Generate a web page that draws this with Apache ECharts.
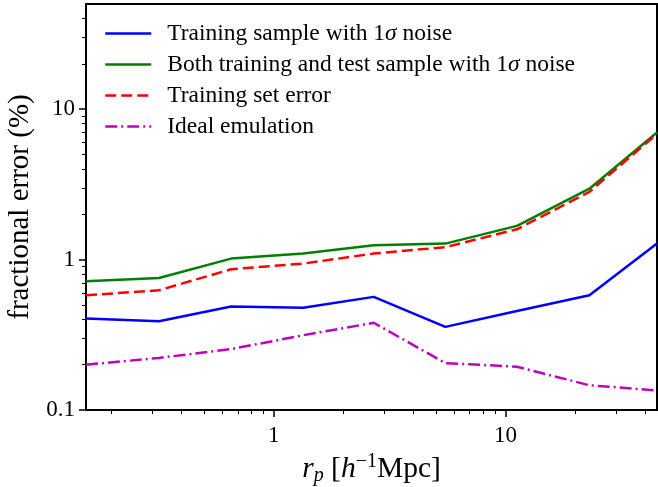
<!DOCTYPE html>
<html>
<head>
<meta charset="utf-8">
<script src="https://cdn.jsdelivr.net/npm/echarts@6/dist/echarts.min.js"></script>
<style>
html, body { margin: 0; padding: 0; background: #fff; }
#main { width: 658px; height: 487px; }
</style>
</head>
<body>
<div id="main"></div>
<script>
// r_p 取样点 (h^-1 Mpc)
var rp = [0.155, 0.32, 0.655, 1.34, 2.7, 5.5, 11.2, 23, 45];
// 各曲线误差 (%)
var trainNoise = [0.405, 0.389, 0.487, 0.478, 0.565, 0.357, 0.455, 0.579, 1.28];
var bothNoise = [0.718, 0.755, 1.015, 1.096, 1.245, 1.277, 1.675, 2.96, 7.0];
var trainSetErr = [0.579, 0.625, 0.862, 0.94, 1.096, 1.21, 1.59, 2.82, 6.85];
var ideal = [0.2, 0.222, 0.254, 0.314, 0.38, 0.205, 0.194, 0.146, 0.135];
var names = [
    'Training sample with 1σ noise',
    'Both training and test sample with 1σ noise',
    'Training set error',
    'Ideal emulation'
];
// 刻度
var xMajor = [1, 10];
var xMinor = [0.2, 0.3, 0.4, 0.5, 0.6, 0.7, 0.8, 0.9, 2, 3, 4, 5, 6, 7, 8, 9, 20, 30, 40];
var yMajor = [0.1, 1, 10];
var yMinor = [0.2, 0.3, 0.4, 0.5, 0.6, 0.7, 0.8, 0.9, 2, 3, 4, 5, 6, 7, 8, 9, 20, 30, 40];

var font = 'Liberation Serif';

function pairs(ys) {
    return rp.map(function (x, i) { return [x, ys[i]]; });
}

function mkSeries(name, ys, color, type) {
    return {
        name: name,
        type: 'line',
        data: pairs(ys),
        showSymbol: false,
        symbol: 'none',
        color: color,
        lineStyle: { color: color, width: 2.5, type: type },
        animation: false
    };
}

var xRange = { min: 0.155, max: 45 };
var yRange = { min: 0.1, max: 50 };

var myChart = echarts.init(document.getElementById('main'));
var option = {
    backgroundColor: '#fff',
    grid: {
        left: 86, right: 1, top: 4, bottom: 77,
        outerBoundsMode: 'none', containLabel: false,
        show: true, borderColor: '#000', borderWidth: 2
    },
    legend: {
        orient: 'vertical',
        left: 99, top: 14,
        itemWidth: 46, itemHeight: 14, itemGap: 2,
        itemStyle: { opacity: 0 },
        lineStyle: { width: 2.5 },
        formatter: function (n) {
            return n.replace('1σ', '1{s|σ}');
        },
        textStyle: {
            fontFamily: font, fontSize: 23.5, color: '#000', lineHeight: 29,
            padding: [0, 0, 0, 11],
            rich: { s: { fontFamily: font, fontSize: 23.5, fontStyle: 'italic', color: '#000', lineHeight: 29 } }
        }
    },
    xAxis: [{
        type: 'log', min: xRange.min, max: xRange.max,
        axisLine: { lineStyle: { color: '#000', width: 2 } },
        splitLine: { show: false },
        axisTick: { customValues: xMajor, length: 7, lineStyle: { color: '#000', width: 1.5 } },
        axisLabel: {
            customValues: xMajor, margin: 14,
            fontFamily: font, fontSize: 23, color: '#000',
            formatter: function (v) { return String(+v.toPrecision(3)); }
        },
        name: '{i|r}{sub|p} [{i|h}{sup|−1}Mpc]',
        nameLocation: 'middle', nameGap: 40,
        nameTextStyle: {
            fontFamily: font, fontSize: 29.5, color: '#000', lineHeight: 34,
            rich: {
                i: { fontFamily: font, fontSize: 29.5, fontStyle: 'italic', lineHeight: 34 },
                sub: { fontFamily: font, fontSize: 20, fontStyle: 'italic', lineHeight: 16, verticalAlign: 'bottom' },
                sup: { fontFamily: font, fontSize: 20, lineHeight: 16, verticalAlign: 'top' }
            }
        }
    }, {
        type: 'log', min: xRange.min, max: xRange.max, position: 'bottom',
        axisLine: { show: false },
        splitLine: { show: false },
        axisTick: { customValues: xMinor, length: 4, lineStyle: { color: '#000', width: 1 } },
        axisLabel: { show: false }
    }],
    yAxis: [{
        type: 'log', min: yRange.min, max: yRange.max,
        axisLine: { show: true, lineStyle: { color: '#000', width: 2 } },
        splitLine: { show: false },
        axisTick: { show: true, customValues: yMajor, length: 7, lineStyle: { color: '#000', width: 1.5 } },
        axisLabel: {
            customValues: yMajor, margin: 11,
            fontFamily: font, fontSize: 23, color: '#000',
            formatter: function (v) { return String(+v.toPrecision(3)); }
        },
        name: 'fractional error (%)',
        nameLocation: 'middle', nameGap: 50,
        nameTextStyle: { fontFamily: font, fontSize: 29, color: '#000' }
    }, {
        type: 'log', min: yRange.min, max: yRange.max, position: 'left',
        axisLine: { show: false },
        splitLine: { show: false },
        axisTick: { show: true, customValues: yMinor, length: 4, lineStyle: { color: '#000', width: 1 } },
        axisLabel: { show: false }
    }],
    series: [
        mkSeries(names[0], trainNoise, '#0000ff', 'solid'),
        mkSeries(names[1], bothNoise, '#008000', 'solid'),
        mkSeries(names[2], trainSetErr, '#ff0000', [11, 5]),
        mkSeries(names[3], ideal, '#bf00bf', [12, 4, 2, 4])
    ]
};
myChart.setOption(option);
</script>
</body>
</html>
